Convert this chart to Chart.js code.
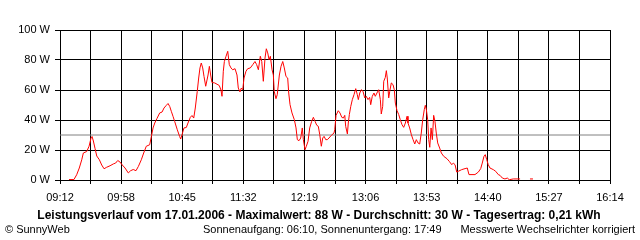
<!DOCTYPE html>
<html>
<head>
<meta charset="utf-8">
<script src="https://cdn.jsdelivr.net/npm/chart.js@4/dist/chart.umd.min.js"></script>
<style>
  body { margin: 0; background: #fff; }
  #wrap { width: 640px; height: 240px; }
</style>
</head>
<body>
<div id="wrap"><canvas id="chart" width="640" height="240"></canvas></div>
<script>
// minutes after midnight
const times = [
  558.9, 562.7, 564.8, 566.8, 568.7, 569.9, 572.5, 574.3, 575.8, 576.6,
  577.6, 578.9, 580.2, 582.2, 584.0, 585.8, 587.8, 590.4, 592.9, 594.7,
  596.3, 598.0, 599.8, 601.9, 604.4, 606.2, 608.2, 610.3, 612.1, 614.4,
  616.2, 618.2, 620.8, 622.1, 623.4, 624.7, 626.4, 628.5, 630.3, 631.8,
  633.6, 634.9, 636.2, 637.4, 638.7, 640.0, 642.0, 643.8, 644.6, 645.8,
  647.1, 648.9, 650.2, 652.0, 653.3, 654.6, 655.8, 657.3, 658.4, 659.4,
  660.4, 661.5, 662.5, 663.8, 665.6, 666.6, 667.6, 668.6, 670.7, 673.2,
  674.2, 675.5, 676.3, 677.3, 678.1, 679.4, 680.7, 681.9, 683.2, 684.5,
  686.3, 687.8, 688.8, 690.1, 691.1, 692.2, 693.2, 694.7, 696.0, 698.0,
  699.9, 701.6, 702.9, 704.2, 705.7, 706.8, 708.0, 709.3, 710.3, 711.4,
  712.4, 713.4, 714.7, 715.7, 716.4, 717.7, 718.7, 720.3, 721.6, 722.9,
  724.1, 725.4, 726.7, 727.5, 728.5, 730.0, 731.8, 733.1, 734.1, 735.4,
  736.7, 737.9, 738.7, 740.0, 741.0, 742.3, 743.6, 745.1, 746.4, 747.7,
  749.0, 750.2, 751.3, 752.5, 753.6, 754.6, 755.9, 757.1, 758.4, 760.2,
  762.2, 762.8, 763.8, 765.5, 766.8, 768.2, 769.4, 770.5, 771.2, 772.5,
  773.2, 774.0, 775.1, 776.3, 777.6, 778.9, 780.1, 780.9, 782.0, 783.2,
  784.5, 785.8, 787.0, 788.3, 789.6, 790.4, 791.6, 792.9, 793.9, 795.2,
  796.5, 797.8, 798.5, 799.6, 800.4, 801.6, 802.4, 803.1, 804.2, 805.0,
  806.2, 807.5, 808.5, 809.3, 810.6, 811.9, 813.1, 814.4, 815.7, 817.0,
  818.3, 819.0, 820.3, 821.6, 822.9, 824.2, 825.4, 826.7, 828.0, 829.2,
  830.3, 831.5, 832.3, 833.1, 834.1, 834.9, 835.7, 836.7, 837.7, 838.7,
  839.7, 840.7, 841.8, 843.3, 844.6, 846.4, 848.9, 850.7, 852.6, 853.8,
  855.1, 856.4, 857.6, 860.2, 862.8, 864.5, 865.8, 870.4, 873.0, 874.8,
  876.0, 877.3, 878.3, 879.4, 880.6, 881.9, 884.5, 886.3, 888.3, 889.6,
  891.4, 893.4, 895.2, 896.7, 899.8, 905.0, 909.0, 912.6, 914.9
];
// power in W
const watts = [
  0.3, 0.3, 3.5, 8, 13.5, 18, 19, 22.5, 28, 29,
  26, 21, 16, 13.5, 10, 7.5, 8.5, 9.5, 10.7, 11.3,
  13, 12, 10, 8, 4.7, 6.2, 7, 6.2, 9, 13.5,
  18, 22.5, 23.5, 29, 34.7, 38, 41, 44.7, 45.3, 48,
  49.8, 51, 49, 45.8, 42.5, 39, 33.5, 29, 27.3, 30.7,
  34.7, 35, 38, 41.8, 43, 41.3, 48, 59, 68, 74.7,
  78, 74.7, 69, 62.5, 70, 75.8, 70, 65, 64.7, 63.5,
  63, 60, 55.8, 72.5, 79, 82.5, 85.8, 76.9, 74.7, 73.5,
  74.2, 70, 61.3, 58.7, 61.3, 60.2, 68, 72.5, 74.2, 74.7,
  76.9, 79, 76.9, 73.5, 82.5, 79, 65.8, 81.3, 87.5, 84.7,
  80.2, 82.5, 73.5, 70, 59, 54.2, 56.9, 70, 75.8, 79,
  74.7, 69, 68, 58, 50.2, 44.7, 40.2, 34.7, 26.9, 26.2,
  28, 34.7, 26.9, 20.2, 22.5, 25.8, 34.7, 39.1, 41.8, 39.1,
  36.5, 35.8, 30.2, 22.5, 28, 29.1, 26.9, 26.9, 28, 29.8,
  31.3, 33.5, 43.1, 46.2, 44.7, 41.8, 41.3, 43.1, 35.8, 30.7,
  38, 43.6, 49.1, 53.6, 56.9, 60.9, 56.9, 53.6, 58, 60.2,
  59.1, 54.7, 55.8, 53.6, 55.1, 50.2, 55.8, 58, 55.8, 58,
  60.2, 53.6, 44, 49.1, 65.8, 68.4, 72.9, 68, 54.7, 59.1,
  64.7, 63.6, 60.2, 51.3, 46.2, 43.6, 40.2, 36.9, 35.1, 38,
  42.5, 38, 34.7, 30.2, 26.9, 24, 26.9, 24.7, 24, 31.3,
  40.2, 46.9, 49.8, 46.9, 40.2, 26.9, 21.8, 34.7, 26.9, 43.1,
  39.1, 31.3, 24.7, 21.3, 18, 15.8, 14.2, 12.4, 10.2, 11.3,
  10.2, 5.3, 5.8, 6.9, 7.6, 8, 3.6, 3.6, 5.3, 7.6,
  11.3, 15.8, 16.9, 13.6, 10.2, 8, 6.9, 5.8, 3.6, 3.1,
  1.3, 0.7, 1.3, 0.2, 0.7, 0.7, null, 0.7, 0.7
];
const tickLabels = ['09:12', '09:58', '10:45', '11:32', '12:19', '13:06', '13:53', '14:40', '15:27', '16:14'];
const yTicks = [0, 20, 40, 60, 80, 100];
const average = 30;

const titleText = 'Leistungsverlauf vom 17.01.2006 - Maximalwert: 88 W - Durchschnitt: 30 W - Tagesertrag: 0,21 kWh';
const footLeft = '\u00A9 SunnyWeb';
const footMid = 'Sonnenaufgang: 06:10, Sonnenuntergang: 17:49';
const footRight = 'Messwerte Wechselrichter korrigiert';

function toMin(s) {
    const p = s.split(':');
    return parseInt(p[0], 10) * 60 + parseInt(p[1], 10);
}

const xMin = toMin(tickLabels[0]);
const xMax = toMin(tickLabels[tickLabels.length - 1]);
const FONT = '"Liberation Sans", Arial, sans-serif';

const points = times.map((t, i) => ({ x: t, y: watts[i] }));

const textPlugin = {
    id: 'texts',
    afterDraw(chart) {
        const ctx = chart.ctx;
        ctx.save();
        ctx.fillStyle = '#000';
        ctx.textBaseline = 'middle';
        ctx.font = 'bold 12px ' + FONT;
        ctx.textAlign = 'center';
        ctx.fillText(titleText, 319, 216);
        ctx.font = '11px ' + FONT;
        ctx.textAlign = 'left';
        ctx.fillText(footLeft, 5, 230);
        ctx.fillText(footMid, 203, 230);
        ctx.textAlign = 'right';
        ctx.fillText(footRight, 635, 230);
        ctx.restore();
    }
};

new Chart(document.getElementById('chart'), {
    type: 'line',
    data: {
        datasets: [
            {
                data: [{ x: xMin, y: average }, { x: xMax, y: average }],
                borderColor: '#808080',
                borderWidth: 1,
                pointRadius: 0,
                order: 2
            },
            {
                data: points,
                borderColor: '#ff0000',
                borderWidth: 1,
                pointRadius: 0,
                tension: 0,
                spanGaps: false,
                order: 1
            }
        ]
    },
    options: {
        responsive: false,
        animation: false,
        layout: { padding: { top: 30, right: 30, left: 0, bottom: 0 } },
        plugins: {
            legend: { display: false },
            tooltip: { enabled: false }
        },
        scales: {
            x: {
                type: 'linear',
                min: xMin,
                max: xMax,
                afterBuildTicks(scale) {
                    const n = (tickLabels.length - 1) * 2;
                    const ticks = [];
                    for (let i = 0; i <= n; i++) {
                        ticks.push({ value: xMin + (xMax - xMin) * i / n });
                    }
                    scale.ticks = ticks;
                },
                afterFit(scale) { scale.height = 60; },
                grid: { color: '#000', lineWidth: 1, tickLength: 4 },
                border: { color: '#000', width: 1 },
                ticks: {
                    autoSkip: false,
                    maxRotation: 0,
                    padding: 7,
                    color: '#000',
                    font: { family: FONT, size: 11 },
                    callback: (v, i) => (i % 2 === 0 ? tickLabels[i / 2] : '')
                }
            },
            y: {
                min: yTicks[0],
                max: yTicks[yTicks.length - 1],
                afterBuildTicks(scale) {
                    scale.ticks = yTicks.map(v => ({ value: v }));
                },
                afterFit(scale) { scale.width = 60; },
                grid: { color: '#000', lineWidth: 1, tickLength: 5 },
                border: { color: '#000', width: 1 },
                ticks: {
                    padding: 5,
                    color: '#000',
                    font: { family: FONT, size: 11 },
                    callback: v => v + ' W'
                }
            }
        }
    },
    plugins: [textPlugin]
});
</script>
</body>
</html>
